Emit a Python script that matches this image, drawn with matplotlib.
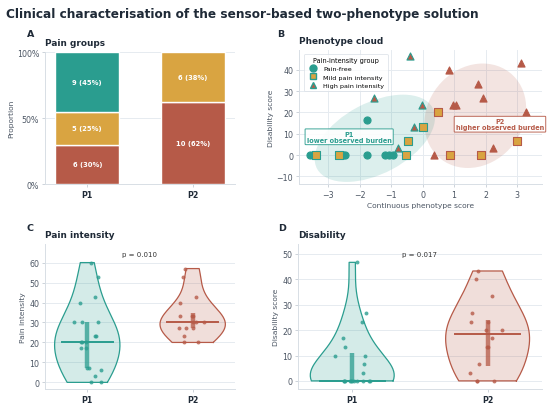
import numpy as np
import matplotlib
matplotlib.use("Agg")
import matplotlib.pyplot as plt
from matplotlib.patches import Ellipse
from matplotlib.lines import Line2D

plt.rcParams["font.family"] = ["DejaVu Sans"]

TEAL, GOLD, RED = "#2A9D8F", "#D9A441", "#B65A48"
DARK, GREY, GRID = "#1F2A37", "#4B5563", "#E6EBF0"

# ---- data -----------------------------------------------------------------
clusters = ["P1", "P2"]
# panel A: counts per pain group (bottom -> top: high, mild, pain-free)
pain_groups = ["High pain intensity", "Mild pain intensity", "Pain-free"]
counts_p1 = [6, 5, 9]
counts_p2 = [10, 6, 0]

# panel B: phenotype score vs disability, by cluster and pain group
p1_free_x = [-3.59, -3.48, -2.55, -2.47, -1.78, -1.78, -1.20, -1.07, -0.95]
p1_free_y = [0, 0, 0, 0, 0, 16.7, 0, 0, 0]
p1_mild_x = [-3.41, -2.66, -0.53, -0.46, 0.00]
p1_mild_y = [0, 0, 0, 6.7, 13.3]
p1_high_x = [-1.55, -0.40, -0.78, -0.27, -0.01]
p1_high_y = [26.7, 46.7, 3.3, 13.3, 23.3]
p2_mild_x = [0.48, 0.87, 1.85, 3.01]
p2_mild_y = [20.0, 0, 0, 6.7]
p2_high_x = [0.36, 0.85, 0.95, 1.06, 1.77, 1.91, 2.25, 3.12, 3.29]
p2_high_y = [0, 40.0, 23.3, 23.3, 33.3, 26.7, 3.3, 43.3, 20.0]

# panel C: pain intensity
pain_p1 = [60, 53, 43, 40, 30, 30, 30, 23, 23, 20, 20, 20, 17, 17, 7, 7, 6, 3, 0, 0]
pain_p2 = [57, 53, 43, 40, 33, 33, 33, 30, 30, 30, 27, 27, 27, 23, 20, 20]
pain_p = "p = 0.010"

# panel D: disability
dis_p1 = [46.7, 26.7, 23.3, 16.7, 13.3, 10, 10, 6.7, 3.3] + [0] * 11
dis_p2 = [43.3, 40, 33.3, 26.7, 23.3, 23.3, 20, 20, 16.7, 13.3, 13.3, 6.7, 3.3, 0, 0, 0]
dis_p = "p = 0.017"


def style(ax, xgrid=False):
    for s in ["top", "right"]:
        ax.spines[s].set_visible(False)
    for s in ["left", "bottom"]:
        ax.spines[s].set_color("#D8DEE5")
        ax.spines[s].set_linewidth(0.7)
    ax.tick_params(labelsize=5.7, colors=GREY, length=2.5, width=0.6, pad=1.8)
    ax.tick_params(axis="both", color="#C5CCD4")
    ax.grid(axis="both" if xgrid else "y", color=GRID, lw=0.7)
    ax.set_axisbelow(True)


def panel_title(ax, txt):
    ax.set_title(txt, loc="left", fontsize=6.4, fontweight="bold", color=DARK, pad=5)


def violin_panel(ax, groups, ptxt, ylabel, ylim):
    pos = [0, 1]
    cols = [TEAL, RED]
    for p, vals, c in zip(pos, groups, cols):
        bw = 1.2 * len(vals) ** (-1 / 5)   # Scott, slightly widened
        parts = ax.violinplot([vals], positions=[p], widths=0.62, showextrema=False, bw_method=bw)
        body = parts["bodies"][0]
        body.set_facecolor(c)
        body.set_alpha(0.2)
        body.set_edgecolor("none")
        verts = body.get_paths()[0].vertices
        ax.plot(verts[:, 0], verts[:, 1], color=c, lw=0.9)
    rng = np.random.default_rng(7)
    for p, vals, c in zip(pos, groups, cols):
        vals = np.asarray(vals, float)
        q1, med, q3 = np.percentile(vals, [25, 50, 75])
        ax.plot([p, p], [q1, q3], color=c, lw=3.2, alpha=0.75, solid_capstyle="butt", zorder=3)
        ax.plot([p - 0.24, p + 0.24], [med, med], color=c, lw=1.4, zorder=4)
        jit = rng.uniform(-0.13, 0.13, len(vals))
        ax.scatter(p + jit, vals, s=8, color=c, alpha=0.8, lw=0, zorder=5)
    top = max(max(g) for g in groups)
    ax.text(0.5, top * 1.07, ptxt, ha="center", va="center", fontsize=5, color="#333333")
    ax.set_xticks(pos, clusters, fontweight="bold", color=DARK)
    ax.set_xlim(-0.4, 1.4)
    ax.set_ylim(*ylim)
    ax.set_ylabel(ylabel, fontsize=5.4, color=GREY, labelpad=2)


def conf_ellipse(ax, x, y, color, n_std=1.6):
    x, y = np.asarray(x, float), np.asarray(y, float)
    cov = np.cov(x, y)
    vals, vecs = np.linalg.eigh(cov)
    order = vals.argsort()[::-1]
    vals, vecs = vals[order], vecs[:, order]
    ang = np.degrees(np.arctan2(vecs[1, 0], vecs[0, 0]))
    w, h = 2 * n_std * np.sqrt(vals)
    ax.add_patch(Ellipse((x.mean(), y.mean()), w, h, angle=ang,
                         facecolor=color, alpha=0.16, edgecolor="none", zorder=1))


fig = plt.figure(figsize=(5.5, 4.06), dpi=100)
fig.text(0.011, 0.965, "Clinical characterisation of the sensor-based two-phenotype solution",
         fontsize=8.7, fontweight="bold", color=DARK, va="center")

# ---- A: stacked proportions ---------------------------------------------
axA = fig.add_axes([0.082, 0.544, 0.345, 0.325])
style(axA)
bar_cols = [RED, GOLD, TEAL]
totals = [sum(counts_p1), sum(counts_p2)]
bottoms = [0.0, 0.0]
for k, c in enumerate(bar_cols):
    for i, cnt in enumerate([counts_p1[k], counts_p2[k]]):
        if cnt == 0:
            continue
        frac = cnt / totals[i]
        axA.bar(i, frac, bottom=bottoms[i], width=0.61, color=c, edgecolor="white", lw=1, zorder=2)
        axA.text(i, bottoms[i] + frac / 2, f"{cnt} ({frac * 100:.0f}%)", ha="center", va="center",
                 color="white", fontweight="bold", fontsize=4.9, zorder=3)
        bottoms[i] += frac
axA.set_ylim(0, 1)
axA.set_xlim(-0.4, 1.4)
axA.set_yticks([0, 0.5, 1.0], ["0%", "50%", "100%"])
axA.set_xticks([0, 1], clusters, fontweight="bold", color=DARK)
axA.set_ylabel("Proportion", fontsize=5.4, color=GREY, labelpad=2)
panel_title(axA, "Pain groups")

# ---- B: phenotype cloud ---------------------------------------------------
axB = fig.add_axes([0.544, 0.544, 0.441, 0.331])
style(axB, xgrid=True)
conf_ellipse(axB, p1_free_x + p1_mild_x + p1_high_x, p1_free_y + p1_mild_y + p1_high_y, TEAL)
conf_ellipse(axB, p2_mild_x + p2_high_x, p2_mild_y + p2_high_y, RED)
mk = dict(s=26, lw=0.8, zorder=3)
axB.scatter(p1_free_x, p1_free_y, marker="o", color=TEAL, edgecolors=TEAL, **mk)
axB.scatter(p1_mild_x, p1_mild_y, marker="s", color=GOLD, edgecolors=TEAL, **mk)
axB.scatter(p2_mild_x, p2_mild_y, marker="s", color=GOLD, edgecolors=RED, **mk)
axB.scatter(p1_high_x, p1_high_y, marker="^", color=RED, edgecolors=TEAL, **mk)
axB.scatter(p2_high_x, p2_high_y, marker="^", color=RED, edgecolors=RED, **mk)
axB.text(-2.34, 8.6, "P1\nlower observed burden", color=TEAL, fontsize=4.7, fontweight="bold",
         ha="center", va="center", linespacing=1.1, zorder=4,
         bbox=dict(boxstyle="round,pad=0.25,rounding_size=0.1", fc="white", ec=TEAL, lw=0.7, alpha=0.9))
axB.text(2.46, 14.5, "P2\nhigher observed burden", color=RED, fontsize=4.7, fontweight="bold",
         ha="center", va="center", linespacing=1.1, zorder=4,
         bbox=dict(boxstyle="round,pad=0.25,rounding_size=0.1", fc="white", ec=RED, lw=0.7, alpha=0.9))
axB.set_xlim(-3.93, 3.79)
axB.set_ylim(-13.6, 49.4)
axB.set_xticks([-3, -2, -1, 0, 1, 2, 3])
axB.set_yticks([-10, 0, 10, 20, 30, 40])
axB.set_xlabel("Continuous phenotype score", fontsize=5.4, color=GREY, labelpad=2)
axB.set_ylabel("Disability score", fontsize=5.4, color=GREY, labelpad=2)
handles = [
    Line2D([], [], ls="", marker="o", ms=5, mfc=TEAL, mec=TEAL, label="Pain-free"),
    Line2D([], [], ls="", marker="s", ms=5, mfc=GOLD, mec=TEAL, label="Mild pain intensity"),
    Line2D([], [], ls="", marker="^", ms=5, mfc=RED, mec=TEAL, label="High pain intensity"),
]
leg = axB.legend(handles=handles, title="Pain-intensity group", loc="upper left", fontsize=4.6,
                 title_fontsize=4.7, frameon=True, borderpad=0.5, labelspacing=0.45,
                 handletextpad=0.6, bbox_to_anchor=(0.005, 0.995))
leg.get_frame().set_edgecolor("#D8DEE5")
leg.get_frame().set_linewidth(0.6)
leg.set_zorder(5)
panel_title(axB, "Phenotype cloud")

# ---- C, D: violins ---------------------------------------------------------
axC = fig.add_axes([0.082, 0.040, 0.345, 0.357])
style(axC)
violin_panel(axC, [pain_p1, pain_p2], pain_p, "Pain intensity", (-3.2, 69.4))
axC.set_yticks(range(0, 61, 10))
panel_title(axC, "Pain intensity")

axD = fig.add_axes([0.542, 0.040, 0.443, 0.357])
style(axD)
violin_panel(axD, [dis_p1, dis_p2], dis_p, "Disability score", (-3.1, 54))
axD.set_yticks(range(0, 51, 10))
panel_title(axD, "Disability")

for lbl, x, y in [("A", 0.049, 0.914), ("B", 0.503, 0.914), ("C", 0.049, 0.438), ("D", 0.506, 0.438)]:
    fig.text(x, y, lbl, fontsize=6.8, fontweight="bold", color=DARK, ha="left", va="center")

fig.savefig("out.png", dpi=100)
